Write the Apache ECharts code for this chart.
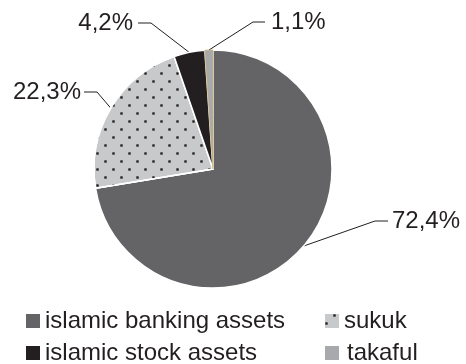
<!DOCTYPE html>
<html>
<head>
<meta charset="utf-8">
<script src="https://cdn.jsdelivr.net/npm/echarts@6/dist/echarts.min.js"></script>
<style>
  html, body { margin: 0; padding: 0; background: #fff; }
  #chart { width: 466px; height: 364px; }
</style>
</head>
<body>
<div id="chart"></div>
<script>
// Shares of the islamic finance market by segment (percent)
const categories = ['islamic banking assets', 'sukuk', 'islamic stock assets', 'takaful'];
const shares = [72.4, 22.3, 4.2, 1.1];
const shareLabels = ['72,4%', '22,3%', '4,2%', '1,1%'];
const sliceColors = ['#646466', '#c8c9cb', '#231f20', '#a7a9ac'];

const INK = '#231f20';
const FONT = '"Liberation Sans", Arial, Helvetica, sans-serif';
const CENTER = [213, 169];
const RADIUS = 119;

// Where each value label sits and where its leader line bends / ends
const labelPlacement = [
  { x: 392, y: 221, align: 'left',  elbowX: 375, elbowY: 221, endX: 388 },
  { x: 81,  y: 92,  align: 'right', elbowX: 97,  elbowY: 92,  endX: 84 },
  { x: 133, y: 23,  align: 'right', elbowX: 151, elbowY: 23,  endX: 138 },
  { x: 271, y: 22,  align: 'left',  elbowX: 253, elbowY: 22,  endX: 265 }
];

// Legend grid: two columns, two rows (banking | sukuk / stock | takaful)
const legendCells = [
  { left: 26,  top: 309 },
  { left: 325, top: 309 },
  { left: 26,  top: 341 },
  { left: 325, top: 341 }
];

// Point on the rim at the middle of a slice (clockwise from 12 o'clock)
function rimPoint(index) {
  const total = shares.reduce((a, b) => a + b, 0);
  let before = 0;
  for (let i = 0; i < index; i++) before += shares[i];
  const mid = (before + shares[index] / 2) / total * 360;
  const rad = (90 - mid) * Math.PI / 180;
  return [CENTER[0] + RADIUS * Math.cos(rad), CENTER[1] - RADIUS * Math.sin(rad)];
}

// Staggered grid of small square dots (every other row shifted by half a period)
const dotDecal = {
  symbol: 'rect',
  symbolSize: 0.8,
  color: INK,
  dashArrayX: [[3, 13], [0, 8, 3, 5]],
  dashArrayY: [3, 5]
};

const pieData = categories.map((name, i) => {
  const item = { name: name, value: shares[i], itemStyle: { color: sliceColors[i] } };
  if (name === 'sukuk') item.itemStyle.decal = dotDecal;
  if (name === 'takaful') { item.itemStyle.borderColor = '#c9b074'; item.itemStyle.borderWidth = 0.8; }
  return item;
});

const legends = categories.map((name, i) => ({
  data: [name],
  orient: 'horizontal',
  left: legendCells[i].left,
  top: legendCells[i].top,
  padding: 0,
  itemWidth: 14, itemHeight: 14,
  icon: 'rect',
  selectedMode: false,
  itemStyle: { borderWidth: 0 },
  formatter: n => n === 'takaful' ? '{pad|' + n + '}' : n,
  textStyle: {
    fontSize: 24,
    lineHeight: 24,
    color: INK,
    fontFamily: FONT,
    rich: { pad: { fontSize: 24, lineHeight: 24, color: INK, fontFamily: FONT, padding: [0, 0, 0, 3] } }
  }
}));

const chart = echarts.init(document.getElementById('chart'), null, { renderer: 'canvas' });
chart.setOption({
  animation: false,
  backgroundColor: '#fff',
  legend: legends,
  series: [{
    type: 'pie',
    center: CENTER,
    radius: RADIUS,
    startAngle: 90,
    clockwise: true,
    avoidLabelOverlap: false,
    emphasis: { disabled: true },
    itemStyle: { borderColor: '#ffffff', borderWidth: 1.5 },
    label: {
      show: true,
      position: 'outside',
      formatter: p => shareLabels[p.dataIndex],
      fontSize: 24,
      color: INK,
      fontFamily: FONT
    },
    labelLine: {
      show: true,
      length: 10,
      length2: 10,
      smooth: false,
      lineStyle: { color: INK, width: 1 }
    },
    labelLayout: params => {
      const p = labelPlacement[params.dataIndex];
      const start = rimPoint(params.dataIndex);
      return {
        x: p.x,
        y: p.y,
        align: p.align,
        verticalAlign: 'middle',
        labelLinePoints: [start, [p.elbowX, p.elbowY], [p.endX, p.elbowY]]
      };
    },
    data: pieData
  }]
});
</script>
</body>
</html>
